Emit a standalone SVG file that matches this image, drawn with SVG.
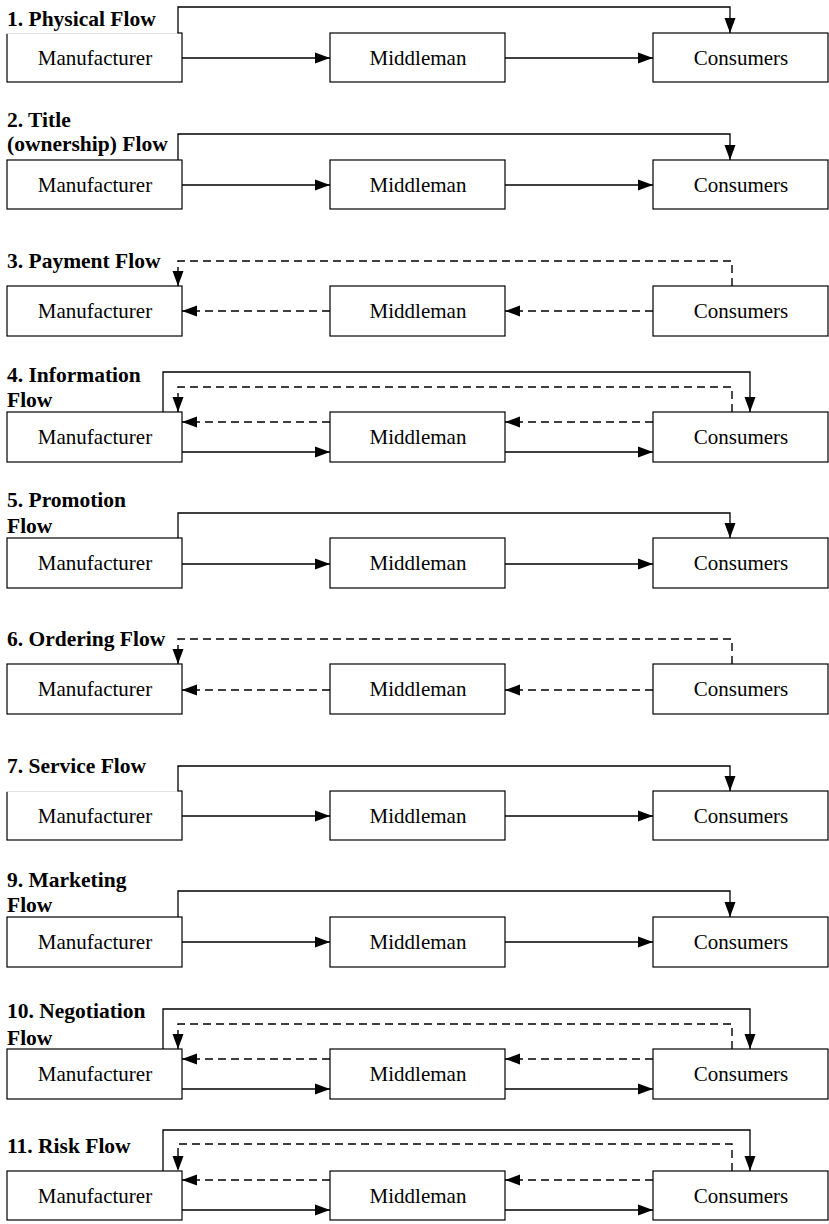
<svg xmlns="http://www.w3.org/2000/svg" width="829" height="1224" viewBox="0 0 829 1224">
  <style>
    .box { fill: #fff; stroke: #000; stroke-width: 1.2; }
    .name { font-family: "Liberation Serif", "Times New Roman", serif; font-size: 21px; fill: #000; text-anchor: middle; }
    .title { font-family: "Liberation Serif", "Times New Roman", serif; font-size: 21.5px; font-weight: bold; fill: #000; }
    .solid { fill: none; stroke: #000; stroke-width: 1.3; marker-end: url(#head); }
    .dash { fill: none; stroke: #000; stroke-width: 1.4; stroke-dasharray: 8 5; marker-end: url(#head); }
    .mask { fill: #fff; stroke: none; }
  </style>
  <defs>
    <marker id="head" markerUnits="userSpaceOnUse" markerWidth="16" markerHeight="12" refX="15" refY="5.5" orient="auto" viewBox="0 0 16 11">
      <path d="M0,0 L15,5.5 L0,11 z" fill="#000" stroke="none"/>
    </marker>
  </defs>

  <rect width="829" height="1224" fill="#fff"/>

  <!-- nodes -->
  <g id="row1">
    <g id="r1-manufacturer"><rect class="box" x="7" y="33" width="175" height="49"/><text class="name" x="95" y="65">Manufacturer</text></g>
    <g id="r1-middleman"><rect class="box" x="330" y="33" width="175" height="49"/><text class="name" x="418" y="65">Middleman</text></g>
    <g id="r1-consumers"><rect class="box" x="653" y="33" width="175" height="49"/><text class="name" x="741" y="65">Consumers</text></g>
    <rect class="mask" x="0" y="0" width="177.4" height="33.8"/>
    <text class="title" x="7" y="26">1. Physical Flow</text>
  </g>

  <g id="row2">
    <g id="r2-manufacturer"><rect class="box" x="7" y="160" width="175" height="49"/><text class="name" x="95" y="192">Manufacturer</text></g>
    <g id="r2-middleman"><rect class="box" x="330" y="160" width="175" height="49"/><text class="name" x="418" y="192">Middleman</text></g>
    <g id="r2-consumers"><rect class="box" x="653" y="160" width="175" height="49"/><text class="name" x="741" y="192">Consumers</text></g>
    <text class="title" x="7" y="127">2. Title</text>
    <text class="title" x="7" y="151">(ownership) Flow</text>
  </g>

  <g id="row3">
    <g id="r3-manufacturer"><rect class="box" x="7" y="286" width="175" height="50"/><text class="name" x="95" y="318">Manufacturer</text></g>
    <g id="r3-middleman"><rect class="box" x="330" y="286" width="175" height="50"/><text class="name" x="418" y="318">Middleman</text></g>
    <g id="r3-consumers"><rect class="box" x="653" y="286" width="175" height="50"/><text class="name" x="741" y="318">Consumers</text></g>
    <text class="title" x="7" y="268">3. Payment Flow</text>
  </g>

  <g id="row4">
    <g id="r4-manufacturer"><rect class="box" x="7" y="412" width="175" height="50"/><text class="name" x="95" y="444">Manufacturer</text></g>
    <g id="r4-middleman"><rect class="box" x="330" y="412" width="175" height="50"/><text class="name" x="418" y="444">Middleman</text></g>
    <g id="r4-consumers"><rect class="box" x="653" y="412" width="175" height="50"/><text class="name" x="741" y="444">Consumers</text></g>
    <text class="title" x="7" y="382">4. Information</text>
    <text class="title" x="7" y="407">Flow</text>
  </g>

  <g id="row5">
    <g id="r5-manufacturer"><rect class="box" x="7" y="538" width="175" height="50"/><text class="name" x="95" y="570">Manufacturer</text></g>
    <g id="r5-middleman"><rect class="box" x="330" y="538" width="175" height="50"/><text class="name" x="418" y="570">Middleman</text></g>
    <g id="r5-consumers"><rect class="box" x="653" y="538" width="175" height="50"/><text class="name" x="741" y="570">Consumers</text></g>
    <text class="title" x="7" y="507">5. Promotion</text>
    <text class="title" x="7" y="533">Flow</text>
  </g>

  <g id="row6">
    <g id="r6-manufacturer"><rect class="box" x="7" y="664" width="175" height="50"/><text class="name" x="95" y="696">Manufacturer</text></g>
    <g id="r6-middleman"><rect class="box" x="330" y="664" width="175" height="50"/><text class="name" x="418" y="696">Middleman</text></g>
    <g id="r6-consumers"><rect class="box" x="653" y="664" width="175" height="50"/><text class="name" x="741" y="696">Consumers</text></g>
    <text class="title" x="7" y="646">6. Ordering Flow</text>
  </g>

  <g id="row7">
    <g id="r7-manufacturer"><rect class="box" x="7" y="791" width="175" height="49"/><text class="name" x="95" y="823">Manufacturer</text></g>
    <g id="r7-middleman"><rect class="box" x="330" y="791" width="175" height="49"/><text class="name" x="418" y="823">Middleman</text></g>
    <g id="r7-consumers"><rect class="box" x="653" y="791" width="175" height="49"/><text class="name" x="741" y="823">Consumers</text></g>
    <rect class="mask" x="0" y="750" width="177.4" height="41.8"/>
    <text class="title" x="7" y="773">7. Service Flow</text>
  </g>

  <g id="row9">
    <g id="r9-manufacturer"><rect class="box" x="7" y="917" width="175" height="50"/><text class="name" x="95" y="949">Manufacturer</text></g>
    <g id="r9-middleman"><rect class="box" x="330" y="917" width="175" height="50"/><text class="name" x="418" y="949">Middleman</text></g>
    <g id="r9-consumers"><rect class="box" x="653" y="917" width="175" height="50"/><text class="name" x="741" y="949">Consumers</text></g>
    <text class="title" x="7" y="887">9. Marketing</text>
    <text class="title" x="7" y="912">Flow</text>
  </g>

  <g id="row10">
    <g id="r10-manufacturer"><rect class="box" x="7" y="1049" width="175" height="50"/><text class="name" x="95" y="1081">Manufacturer</text></g>
    <g id="r10-middleman"><rect class="box" x="330" y="1049" width="175" height="50"/><text class="name" x="418" y="1081">Middleman</text></g>
    <g id="r10-consumers"><rect class="box" x="653" y="1049" width="175" height="50"/><text class="name" x="741" y="1081">Consumers</text></g>
    <text class="title" x="7" y="1018">10. Negotiation</text>
    <text class="title" x="7" y="1045">Flow</text>
  </g>

  <g id="row11">
    <g id="r11-manufacturer"><rect class="box" x="7" y="1171" width="175" height="49"/><text class="name" x="95" y="1203">Manufacturer</text></g>
    <g id="r11-middleman"><rect class="box" x="330" y="1171" width="175" height="49"/><text class="name" x="418" y="1203">Middleman</text></g>
    <g id="r11-consumers"><rect class="box" x="653" y="1171" width="175" height="49"/><text class="name" x="741" y="1203">Consumers</text></g>
    <text class="title" x="7" y="1153">11. Risk Flow</text>
  </g>

  <!-- connectors -->
  <g id="connectors">
    <!-- 1. Physical -->
    <path class="solid" d="M182,58 H330"/>
    <path class="solid" d="M505,58 H653"/>
    <path class="solid" d="M178,33 V7 H730 V33"/>

    <!-- 2. Title -->
    <path class="solid" d="M182,185 H330"/>
    <path class="solid" d="M505,185 H653"/>
    <path class="solid" d="M178,160 V134 H730 V160"/>

    <!-- 3. Payment -->
    <path class="dash" d="M653,311 H505"/>
    <path class="dash" d="M330,311 H182"/>
    <path class="dash" d="M732,286 V261 H178 V286"/>

    <!-- 4. Information -->
    <path class="dash" d="M653,422 H505"/>
    <path class="dash" d="M330,422 H182"/>
    <path class="solid" d="M182,452 H330"/>
    <path class="solid" d="M505,452 H653"/>
    <path class="solid" d="M163,412 V372 H750 V412"/>
    <path class="dash" d="M732,412 V387 H178 V412"/>

    <!-- 5. Promotion -->
    <path class="solid" d="M182,564 H330"/>
    <path class="solid" d="M505,564 H653"/>
    <path class="solid" d="M178,538 V513 H730 V538"/>

    <!-- 6. Ordering -->
    <path class="dash" d="M653,690 H505"/>
    <path class="dash" d="M330,690 H182"/>
    <path class="dash" d="M732,664 V639 H178 V664"/>

    <!-- 7. Service -->
    <path class="solid" d="M182,816 H330"/>
    <path class="solid" d="M505,816 H653"/>
    <path class="solid" d="M178,791 V766 H730 V791"/>

    <!-- 9. Marketing -->
    <path class="solid" d="M182,942 H330"/>
    <path class="solid" d="M505,942 H653"/>
    <path class="solid" d="M178,917 V891 H730 V917"/>

    <!-- 10. Negotiation -->
    <path class="dash" d="M653,1059 H505"/>
    <path class="dash" d="M330,1059 H182"/>
    <path class="solid" d="M182,1089 H330"/>
    <path class="solid" d="M505,1089 H653"/>
    <path class="solid" d="M163,1049 V1009 H750 V1049"/>
    <path class="dash" d="M732,1049 V1024 H178 V1049"/>

    <!-- 11. Risk -->
    <path class="dash" d="M653,1180 H505"/>
    <path class="dash" d="M330,1180 H182"/>
    <path class="solid" d="M182,1210 H330"/>
    <path class="solid" d="M505,1210 H653"/>
    <path class="solid" d="M163,1171 V1130 H750 V1171"/>
    <path class="dash" d="M732,1171 V1144 H178 V1171"/>
  </g>
</svg>
